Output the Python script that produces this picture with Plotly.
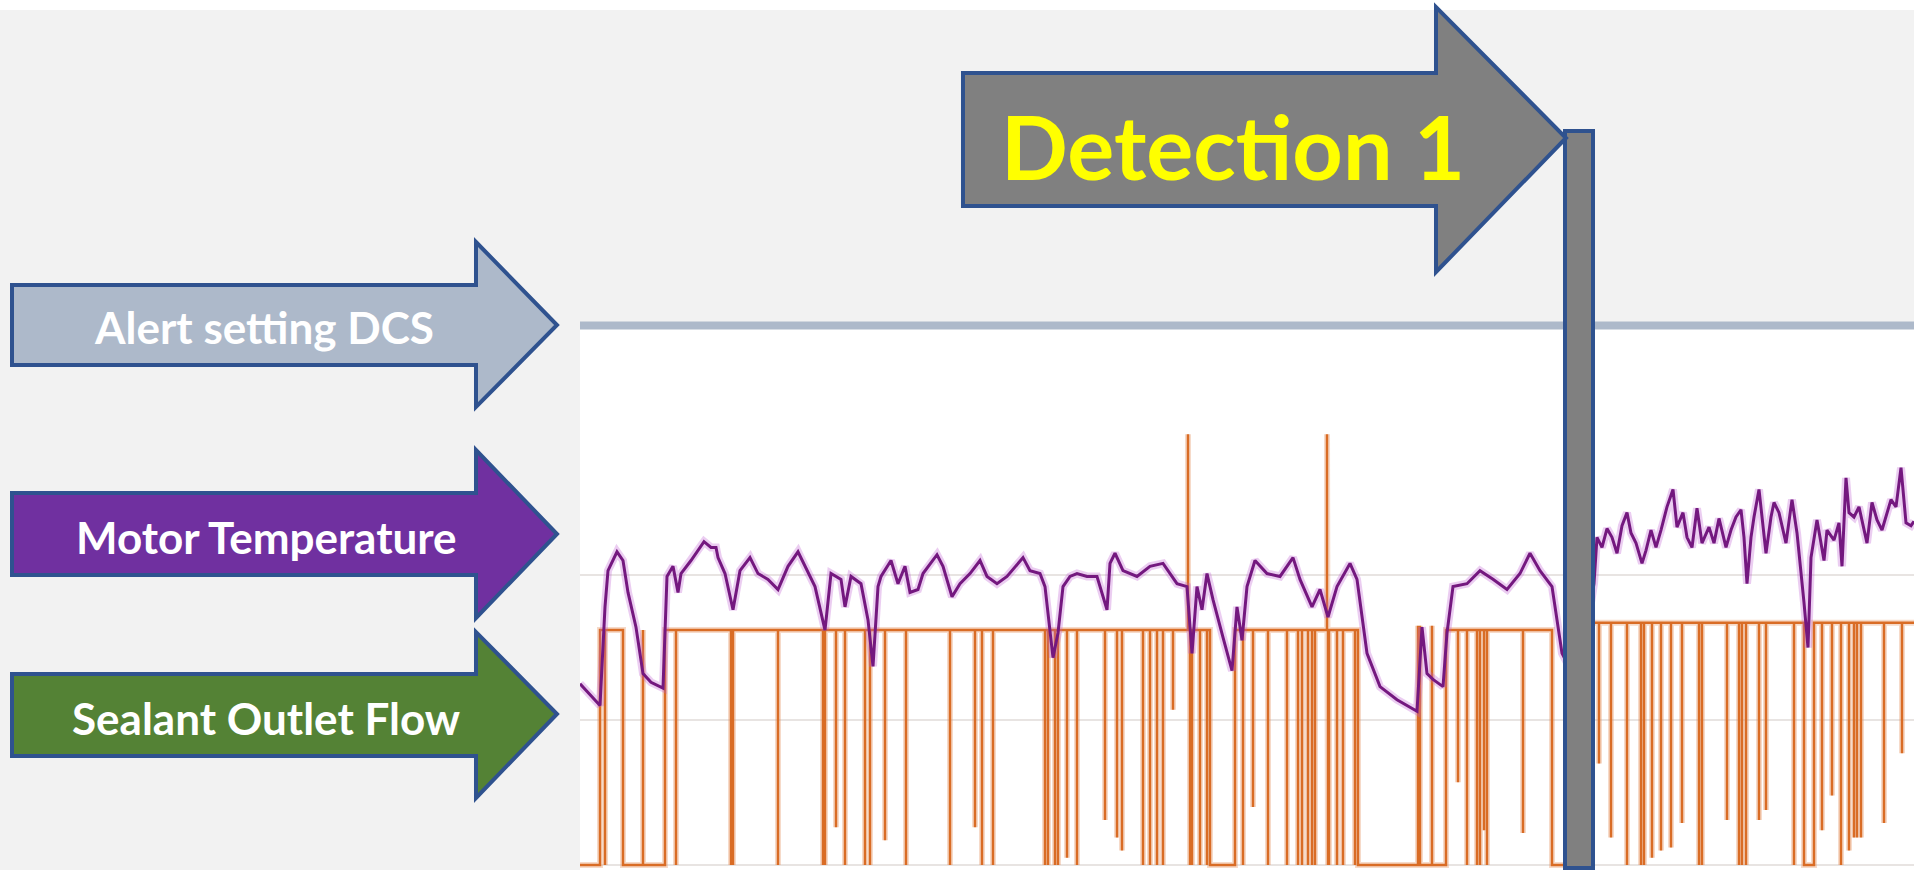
import plotly.graph_objects as go

W, H = 1914, 870

# ---------------- data (x: minutes from window start, y: display units) ----------------
temp_x = [0, 20, 25, 28, 37, 43, 48, 56, 63, 71,
          83, 87, 93, 98, 101, 111, 124, 131, 136, 138,
          145, 153, 160, 170, 178, 188, 198, 208, 218, 225,
          235, 245, 251, 261, 265, 271, 281, 288, 293, 298,
          301, 311, 318, 325, 330, 338, 343, 357, 363, 372,
          380, 390, 400, 407, 417, 427, 443, 450, 460, 465,
          473, 478, 483, 490, 497, 507, 517, 527, 530, 535,
          543, 557, 570, 583, 597, 607, 612, 617, 622, 627,
          633, 643, 652, 657, 662, 667, 675, 687, 700, 713,
          720, 732, 740, 748, 757, 770, 777, 787, 800, 817,
          837, 842, 847, 853, 863, 867, 873, 887, 900, 913,
          927, 940, 950, 960, 972, 982, 998,
          1014, 1017, 1022, 1027, 1032, 1037, 1042, 1047, 1051, 1056,
          1062, 1066, 1071, 1076, 1081, 1087, 1093, 1097, 1103, 1107,
          1112, 1117, 1122, 1129, 1134, 1139, 1146, 1151, 1156, 1161,
          1164, 1167, 1171, 1174, 1179, 1182, 1186, 1191, 1194, 1199,
          1206, 1212, 1217, 1224, 1228, 1231, 1237, 1244, 1247, 1254,
          1259, 1262, 1266, 1269, 1274, 1279, 1287, 1292, 1297, 1302,
          1311, 1316, 1321, 1326, 1331, 1334]
temp_y = [125, 110, 178, 203, 216, 210, 188, 164, 132, 126,
          122, 199, 206, 188, 201, 210, 223, 219, 219, 212,
          201, 176, 203, 212, 201, 197, 190, 206, 216, 206,
          192, 162, 201, 197, 178, 199, 194, 169, 137, 192,
          199, 210, 194, 206, 188, 190, 201, 214, 206, 185,
          194, 201, 210, 199, 194, 199, 212, 203, 201, 192,
          143, 160, 192, 199, 201, 199, 199, 176, 208, 215,
          203, 199, 206, 208, 194, 192, 146, 192, 176, 201,
          183, 157, 134, 178, 155, 192, 210, 201, 199, 212,
          197, 178, 190, 171, 192, 208, 197, 146, 123, 114,
          106, 164, 132, 128, 123, 160, 192, 194, 203, 197,
          190, 201, 215, 203, 192, 146, 125,
          194, 226, 219, 232, 226, 215, 234, 243, 229, 222,
          208, 217, 231, 219, 231, 247, 259, 233, 243, 226,
          219, 246, 222, 233, 222, 239, 219, 231, 240, 245,
          226, 194, 226, 240, 259, 240, 215, 240, 250, 243,
          222, 252, 229, 181, 150, 212, 238, 210, 231, 224,
          236, 206, 267, 243, 240, 247, 222, 250, 238, 231,
          252, 247, 274, 236, 234, 237]

flow_level_before = 162
flow_level_after = 167
flow_off_start = [0, 43, 630, 778, 972, 1224]
flow_off_end = [20, 85, 655, 866, 1000, 1234]
flow_event_x = [25, 63, 96, 151, 153, 198, 243, 245, 256, 265, 285, 290, 305, 326, 370, 395, 402,
                413, 465, 468, 475, 478, 487, 497, 525, 537, 542, 563, 570, 577, 583, 593, 608, 610,
                612, 620, 627, 663, 673, 688, 707, 718, 722, 728, 732, 735, 747, 748, 749, 757, 763,
                775, 838, 840, 852, 878, 887, 897, 900, 904, 907, 943, 1019, 1031, 1047, 1061, 1064,
                1072, 1081, 1091, 1102, 1119, 1122, 1147, 1159, 1162, 1166, 1179, 1186, 1214, 1242,
                1252, 1261, 1269, 1274, 1277, 1281, 1304, 1322]
flow_event_y = [0, 162, 0, 0, 0, 0, 0, 0, 26, 0, 0, 0, 17, 0, 0, 26, 0, 0, 0, 0, 0, 0, 5, 0, 31, 19,
                10, 0, 0, 0, 0, 107, 297, 0, 0, 0, 0, 0, 40, 0, 0, 0, 0, 0, 0, 0, 297, 0, 0, 0, 0, 0,
                165, 165, 165, 57, 0, 0, 0, 24, 0, 22, 70, 19, 0, 0, 0, 5, 10, 12, 29, 0, 0, 31, 0, 0,
                0, 31, 38, 0, 24, 48, 0, 10, 19, 19, 19, 29, 77]

alert_level = 372
grid_levels = [0, 100, 200]
detection_time = 999

box_labels = ["Alert setting DCS", "Motor Temperature", "Sealant Outlet Flow"]
box_colors = ["#ADB9CA", "#7030A0", "#548235"]
detection_label = "Detection 1"

X_MAX = 1334
Y_MIN, Y_MAX = -3.448, 377.93

# ---------------- build flow step series from readings ----------------
def high_at(x):
    return flow_level_before if x < detection_time else flow_level_after

events = []
for s, e in zip(flow_off_start, flow_off_end):
    events.append((s, 0, None))
    events.append((e, 2, None))
for x, v in zip(flow_event_x, flow_event_y):
    events.append((x, 1, v))
events.sort(key=lambda t: (t[0], t[1]))

fx, fy = [], []
cur = high_at(0)
started = False
for x, kind, v in events:
    if kind == 0:
        if x <= 0:
            cur = 0
            fx.append(0); fy.append(0)
            started = True
            continue
        if not started:
            fx.append(0); fy.append(cur); started = True
        fx += [x, x]; fy += [cur, 0]
        cur = 0
    elif kind == 2:
        fx += [x, x]; fy += [0, high_at(x)]
        cur = high_at(x)
    else:
        fx += [x, x, x]; fy += [cur, v, cur]
fx.append(X_MAX); fy.append(cur)

# ---------------- figure ----------------
fig = go.Figure()

fig.add_trace(go.Scatter(x=fx, y=fy, mode="lines",
                         line=dict(color="rgba(230,150,100,0.35)", width=6), hoverinfo="skip",
                         showlegend=False))
fig.add_trace(go.Scatter(x=fx, y=fy, mode="lines",
                         line=dict(color="#D96C25", width=2.5), hoverinfo="skip",
                         showlegend=False))
fig.add_trace(go.Scatter(x=temp_x, y=temp_y, mode="lines",
                         line=dict(color="rgba(190,90,210,0.30)", width=8), hoverinfo="skip",
                         showlegend=False))
fig.add_trace(go.Scatter(x=temp_x, y=temp_y, mode="lines",
                         line=dict(color="#74187F", width=3), hoverinfo="skip",
                         showlegend=False))
fig.add_trace(go.Scatter(x=[0, X_MAX], y=[alert_level, alert_level], mode="lines",
                         line=dict(color="#ADB9CA", width=8), hoverinfo="skip",
                         showlegend=False))


def px(x):
    return x / W


def py(y):
    return 1 - y / H


def arrow_path(x0, xh, xt, b0, b1, h0, h1, tip):
    pts = [(x0, b0), (xh, b0), (xh, h0), (xt, tip), (xh, h1), (xh, b1), (x0, b1)]
    return "M " + " L ".join(f"{px(a):.5f},{py(b):.5f}" for a, b in pts) + " Z"


shapes = []
# white strip on top and white plotting panel
shapes.append(dict(type="rect", xref="paper", yref="paper", x0=0, x1=1, y0=py(10), y1=1,
                   fillcolor="white", line=dict(width=0), layer="below"))
shapes.append(dict(type="rect", xref="paper", yref="paper", x0=px(580), x1=1, y0=0, y1=py(329),
                   fillcolor="white", line=dict(width=0), layer="below"))

# left label arrows
arrow_geo = [
    (285, 365, 242, 407, 325),
    (493, 575, 450, 618, 534),
    (674, 756, 632, 798, 714),
]
for (b0, b1, h0, h1, tip), col in zip(arrow_geo, box_colors):
    shapes.append(dict(type="path", xref="paper", yref="paper",
                       path=arrow_path(12, 476, 557, b0, b1, h0, h1, tip),
                       fillcolor=col, line=dict(color="#2F528F", width=4)))

# detection marker bar
shapes.append(dict(type="rect", xref="x", yref="paper", xsizemode="pixel",
                   xanchor=detection_time, x0=-14, x1=14, y0=py(868), y1=py(131),
                   fillcolor="#808080", line=dict(color="#2F528F", width=4), layer="above"))
# detection arrow
shapes.append(dict(type="path", xref="paper", yref="paper",
                   path=arrow_path(963, 1436, 1566, 73, 206, 7, 272, 138),
                   fillcolor="#808080", line=dict(color="#2F528F", width=4), layer="above"))

annotations = []
label_pos = [(264, 327), (266, 537), (266, 718)]
for (x, y), txt in zip(label_pos, box_labels):
    annotations.append(dict(xref="paper", yref="paper", x=px(x), y=py(y), text=f"<b>{txt}</b>",
                            showarrow=False, xanchor="center", yanchor="middle",
                            font=dict(family="Lato", size=44, color="white")))
annotations.append(dict(xref="paper", yref="paper", x=px(1233), y=py(146),
                        text=f"<b>{detection_label}</b>", showarrow=False,
                        xanchor="center", yanchor="middle",
                        font=dict(family="Lato", size=88, color="#FFFF00")))

fig.update_layout(
    width=W, height=H,
    margin=dict(l=0, r=0, t=0, b=0, pad=0),
    paper_bgcolor="#F2F2F2",
    plot_bgcolor="rgba(0,0,0,0)",
    shapes=shapes,
    annotations=annotations,
    showlegend=False,
    xaxis=dict(domain=[px(580), 1], range=[0, X_MAX], showgrid=False, zeroline=False,
               showticklabels=False, showline=False, ticks="", fixedrange=True),
    yaxis=dict(domain=[0, py(317)], range=[Y_MIN, Y_MAX], tickvals=grid_levels,
               showgrid=True, gridcolor="#E8E4E2", gridwidth=2, zeroline=False,
               showticklabels=False, showline=False, ticks="", fixedrange=True),
)

fig.write_html("out.html", config={"displayModeBar": False},
               post_script="document.body.style.margin='0px';document.body.style.overflow='hidden';")
